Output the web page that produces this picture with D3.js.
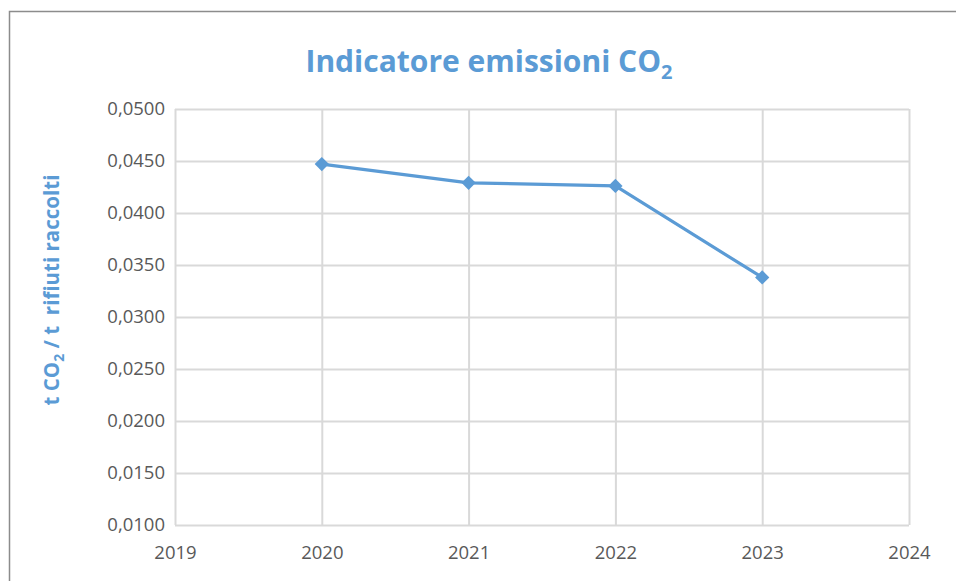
<!DOCTYPE html>
<html>
<head>
<meta charset="utf-8">
<script src="https://cdn.jsdelivr.net/npm/d3@7"></script>
<style>
	body { margin: 0; background: #fff; }
	text { font-family: "Open Sans", "Noto Sans", sans-serif; }
</style>
</head>
<body>
<div id="container"></div>
<script>
// data
var years = [2020, 2021, 2022, 2023];
var values = [0.0447, 0.0429, 0.0426, 0.0338];
var yTicks = [0.0100, 0.0150, 0.0200, 0.0250, 0.0300, 0.0350, 0.0400, 0.0450, 0.0500];
var xTicks = [2019, 2020, 2021, 2022, 2023, 2024];

var w = 956, h = 581;
var blue = "#5b9bd5";
var plot = {left: 175, right: 909, top: 109, bottom: 525};

var svg = d3.select("#container")
	.append("svg")
	.attr("width", w)
	.attr("height", h);

// outer chart border
svg.append("rect")
	.attr("x", 9.5)
	.attr("y", 11.5)
	.attr("width", w + 10)
	.attr("height", h + 10)
	.attr("fill", "#fff")
	.attr("stroke", "#8c8c8c")
	.attr("stroke-width", 1.5);

var x = d3.scaleLinear()
	.domain([2019, 2024])
	.range([plot.left, plot.right]);

var y = d3.scaleLinear()
	.domain([0.0100, 0.0500])
	.range([plot.bottom, plot.top]);

var fmt = function(d){
	return d3.format(".4f")(d).replace(".", ",");
};

// gridlines
var yAxis = svg.append("g")
	.attr("transform", "translate(" + plot.left + ",0)")
	.call(d3.axisLeft(y).tickValues(yTicks).tickFormat(fmt)
		.tickSize(-(plot.right - plot.left)).tickPadding(10));
yAxis.select(".domain").remove();
yAxis.selectAll("line").attr("stroke", "#d9d9d9").attr("stroke-width", 2);
yAxis.selectAll("text").attr("fill", "#595959").attr("font-size", "18.5px");

var xAxis = svg.append("g")
	.attr("transform", "translate(0," + plot.bottom + ")")
	.call(d3.axisBottom(x).tickValues(xTicks).tickFormat(d3.format("d"))
		.tickSize(-(plot.bottom - plot.top)).tickPadding(21));
xAxis.select(".domain").remove();
xAxis.selectAll("line").attr("stroke", "#d9d9d9").attr("stroke-width", 2);
xAxis.selectAll("text").attr("fill", "#595959").attr("font-size", "18.5px");

// line series
var line = d3.line()
	.x(function(d, i){ return x(years[i]); })
	.y(function(d){ return y(d); });

svg.append("path")
	.datum(values)
	.attr("d", line)
	.attr("fill", "none")
	.attr("stroke", blue)
	.attr("stroke-width", 3.2)
	.attr("stroke-linejoin", "round");

svg.selectAll(".marker")
	.data(values)
	.enter()
	.append("path")
	.attr("class", "marker")
	.attr("d", d3.symbol().type(d3.symbolDiamond2).size(130))
	.attr("transform", function(d, i){
		return "translate(" + x(years[i]) + "," + y(d) + ")";
	})
	.attr("fill", blue);

// title
var title = svg.append("text")
	.attr("x", 489)
	.attr("y", 72)
	.attr("text-anchor", "middle")
	.attr("fill", blue)
	.attr("font-size", "30px")
	.attr("font-weight", "bold");
title.append("tspan").text("Indicatore emissioni CO");
title.append("tspan").text("2").attr("font-size", "20px").attr("dy", 7);

// y axis label
var yLabel = svg.append("text")
	.attr("transform", "translate(59,290) rotate(-90)")
	.attr("text-anchor", "middle")
	.attr("fill", blue)
	.attr("font-size", "20.5px")
	.attr("font-weight", "bold");
yLabel.append("tspan").text("t CO");
yLabel.append("tspan").text("2").attr("font-size", "14px").attr("dy", 5);
yLabel.append("tspan").text(" / t  rifiuti raccolti").attr("dy", -5)
	.style("white-space", "pre");
</script>
</body>
</html>
